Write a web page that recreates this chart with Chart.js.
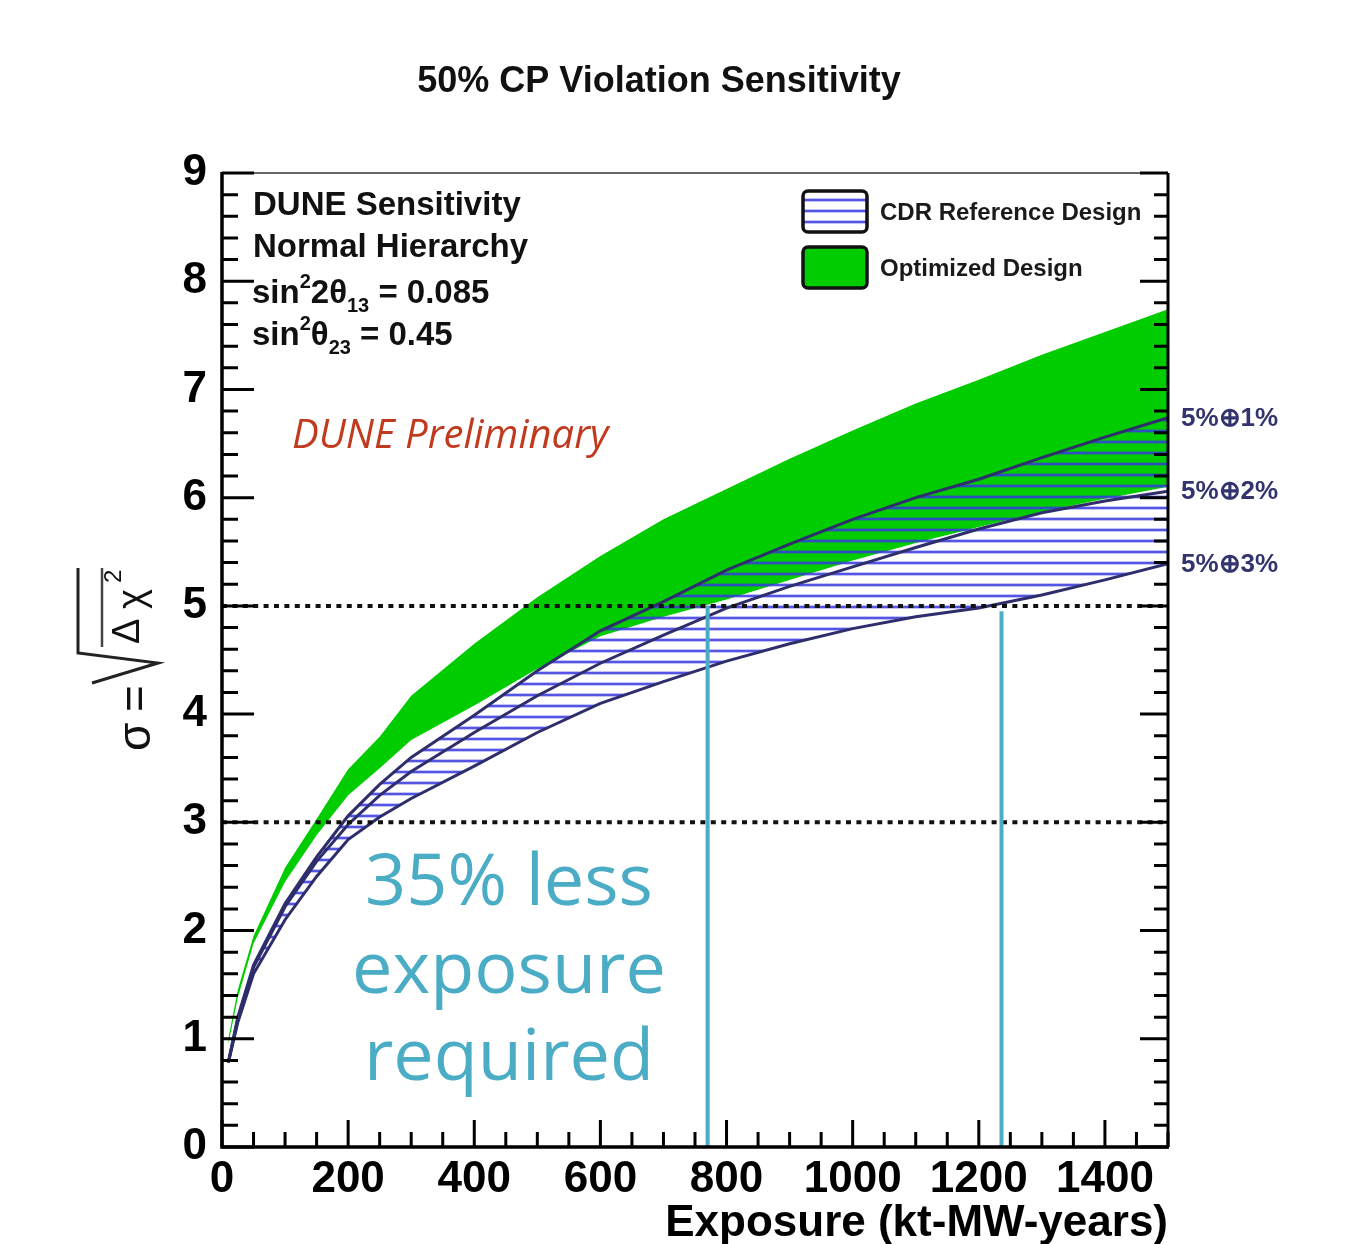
<!DOCTYPE html>
<html><head><meta charset="utf-8">
<style>html,body{margin:0;padding:0;background:#fff;}canvas{display:block;}</style>
<script src="https://cdn.jsdelivr.net/npm/chart.js@4.4.1/dist/chart.umd.min.js"></script>
</head><body>
<canvas id="c" width="1347" height="1244"></canvas>
<script>
// ---- data ----
const exposure       = [10, 25, 50, 100, 150, 200, 250, 300, 400, 500, 600, 700, 800, 900, 1000, 1100, 1200, 1300, 1400, 1500];
const optimizedUpper = [1.00, 1.45, 1.95, 2.58, 3.03, 3.49, 3.79, 4.17, 4.65, 5.08, 5.46, 5.80, 6.08, 6.36, 6.62, 6.87, 7.09, 7.32, 7.53, 7.74];
const optimizedLower = [0.95, 1.38, 1.88, 2.45, 2.88, 3.25, 3.50, 3.76, 4.08, 4.42, 4.72, 4.90, 5.06, 5.24, 5.42, 5.58, 5.73, 5.87, 5.99, 6.10];
const cdr1pct        = [0.78, 1.20, 1.68, 2.25, 2.68, 3.06, 3.35, 3.60, 3.99, 4.40, 4.77, 5.04, 5.33, 5.57, 5.80, 6.00, 6.17, 6.37, 6.56, 6.74];
const cdr2pct        = [0.78, 1.18, 1.66, 2.22, 2.64, 2.98, 3.25, 3.47, 3.83, 4.17, 4.47, 4.73, 4.98, 5.18, 5.36, 5.54, 5.71, 5.86, 5.97, 6.06];
const cdr3pct        = [0.78, 1.15, 1.60, 2.10, 2.50, 2.84, 3.05, 3.22, 3.52, 3.83, 4.10, 4.30, 4.49, 4.65, 4.79, 4.90, 4.98, 5.10, 5.24, 5.39];
const sigmaLevels    = [3, 5];
const cutExposure    = [770, 1236];
const cutSigma       = [5.0, 4.95];
const xTickValues    = [0, 200, 400, 600, 800, 1000, 1200, 1400];
const yTickValues    = [0, 1, 2, 3, 4, 5, 6, 7, 8, 9];
const systLabels     = ['5%\u22951%', '5%\u22952%', '5%\u22953%'];
const legendLabels   = ['CDR Reference Design', 'Optimized Design'];

const XMAX = 1500, YMAX = 9;
const GREEN = '#00cc00', NAVY = '#2e2e6c', CYAN = '#4bacc6';

// hatch pattern
const hc = document.createElement('canvas'); hc.width = 8; hc.height = 11;
const hx = hc.getContext('2d');
hx.fillStyle = 'rgba(55,55,225,0.30)'; hx.fillRect(0, 0, 8, 1);
hx.fillStyle = 'rgba(55,55,225,0.85)'; hx.fillRect(0, 1, 8, 2);
hx.fillStyle = 'rgba(55,55,225,0.30)'; hx.fillRect(0, 3, 8, 1);
const ctx0 = document.getElementById('c').getContext('2d');
const hatch = ctx0.createPattern(hc, 'repeat');

const pts = (xs, ys) => xs.map((v, i) => ({x: v, y: ys[i]}));
const FONT = '"Liberation Sans", Arial, Helvetica, sans-serif';

Chart.defaults.font.family = FONT;

function rich(ctx, x, y, parts) {
  let cx = x;
  for (const [t, size, dy] of parts) {
    ctx.font = `bold ${size}px ${FONT}`;
    ctx.fillText(t, cx, y + dy);
    cx += ctx.measureText(t).width;
  }
}

const decor = {
  id: 'decor',
  afterDatasetsDraw(chart) {
    const {ctx, chartArea: a, scales: {x, y}} = chart;
    ctx.save();
    // frame
    ctx.strokeStyle = '#666'; ctx.lineWidth = 2;
    ctx.beginPath(); ctx.moveTo(a.left, a.top); ctx.lineTo(a.right, a.top); ctx.stroke();
    ctx.strokeStyle = '#000'; ctx.lineWidth = 3;
    ctx.beginPath(); ctx.moveTo(a.right, a.top); ctx.lineTo(a.right, a.bottom); ctx.stroke();
    ctx.lineWidth = 3.5;
    ctx.beginPath(); ctx.moveTo(a.left, a.top - 1); ctx.lineTo(a.left, a.bottom); ctx.lineTo(a.right + 1, a.bottom); ctx.stroke();
    // ticks
    ctx.lineWidth = 3;
    ctx.beginPath();
    for (let v = 0; v <= XMAX; v += 50) {
      const px = x.getPixelForValue(v);
      const len = (v % 200 === 0) ? 27 : 15;
      ctx.moveTo(px, a.bottom); ctx.lineTo(px, a.bottom - len);
    }
    for (let i = 0; i <= YMAX * 5; i++) {
      const v = i / 5, py = y.getPixelForValue(v);
      const major = i % 5 === 0;
      ctx.moveTo(a.left, py); ctx.lineTo(a.left + (major ? 32 : 16), py);
      ctx.moveTo(a.right, py); ctx.lineTo(a.right - (major ? 28 : 14), py);
    }
    ctx.stroke();
    ctx.restore();
  },
  afterDraw(chart) {
    const {ctx, chartArea: a, scales: {x, y}} = chart;
    ctx.save();
    ctx.textBaseline = 'alphabetic';
    // title
    ctx.fillStyle = '#111'; ctx.textAlign = 'center';
    ctx.font = `bold 36px ${FONT}`;
    ctx.fillText('50% CP Violation Sensitivity', 659, 92);
    // info block
    ctx.textAlign = 'left';
    ctx.font = `bold 33px ${FONT}`;
    ctx.fillText('DUNE Sensitivity', 253, 215);
    ctx.fillText('Normal Hierarchy', 253, 257);
    rich(ctx, 252, 303, [['sin', 33, 0], ['2', 20, -15], ['2\u03b8', 33, 0], ['13', 20, 9], [' = 0.085', 33, 0]]);
    rich(ctx, 252, 345, [['sin', 33, 0], ['2', 20, -15], ['\u03b8', 33, 0], ['23', 20, 9], [' = 0.45', 33, 0]]);
    // preliminary
    ctx.fillStyle = '#c23a1e';
    ctx.font = `italic 40px "Open Sans", ${FONT}`;
    ctx.fillText('DUNE Preliminary', 292, 448);
    // legend
    const boxes = [[803, 191, hatch], [803, 247, GREEN]];
    boxes.forEach(([bx, by, fillS], i) => {
      ctx.fillStyle = fillS;
      ctx.beginPath(); ctx.roundRect(bx, by, 64, 41, 5); ctx.fill();
      ctx.strokeStyle = '#111'; ctx.lineWidth = 3.5; ctx.stroke();
      ctx.fillStyle = '#1a1a1a';
      ctx.font = `bold 24px ${FONT}`;
      ctx.fillText(legendLabels[i], 880, by + 29);
    });
    // systematic labels
    ctx.fillStyle = '#33336e';
    ctx.font = `bold 26px ${FONT}`;
    ctx.textBaseline = 'middle';
    const ends = [cdr1pct, cdr2pct, cdr3pct].map(s => s[s.length - 1]);
    ends.forEach((v, i) => ctx.fillText(systLabels[i], 1181, y.getPixelForValue(v) + 1));
    // annotation
    ctx.textBaseline = 'alphabetic';
    ctx.textAlign = 'center';
    ctx.fillStyle = CYAN;
    ctx.font = `72px "Open Sans", ${FONT}`;
    ctx.fillText('35% less', 509, 905);
    ctx.fillText('exposure', 509, 993);
    ctx.fillText('required', 509, 1080);
    // y-axis title (rotated)
    ctx.translate(150, 750);
    ctx.rotate(-Math.PI / 2);
    ctx.textAlign = 'left';
    ctx.fillStyle = '#111';
    ctx.font = `46px ${FONT}`;
    ctx.fillText('\u03c3', -1, 0);
    ctx.fillText('=', 38, 0);
    ctx.strokeStyle = '#222'; ctx.lineWidth = 3;
    ctx.beginPath(); ctx.moveTo(67, -58); ctx.lineTo(87, 8); ctx.lineTo(97, -72); ctx.lineTo(182, -72); ctx.stroke();
    ctx.strokeStyle = '#444'; ctx.lineWidth = 2.5;
    ctx.beginPath(); ctx.moveTo(103, -48); ctx.lineTo(182, -48); ctx.stroke();
    ctx.fillStyle = '#111';
    ctx.font = `38px ${FONT}`;
    ctx.fillText('\u0394', 106, -11);
    ctx.fillText('\u03c7', 141, -6);
    ctx.font = `24px ${FONT}`;
    ctx.fillText('2', 167, -29);
    ctx.restore();
  }
};

const lineDs = (label, data, extra) => Object.assign({
  label, data, pointRadius: 0, borderWidth: 3, borderColor: NAVY, fill: false, tension: 0
}, extra);

new Chart(ctx0, {
  type: 'line',
  data: {
    datasets: [
      lineDs('cut optimized', [{x: cutExposure[0], y: 0}, {x: cutExposure[0], y: cutSigma[0]}], {borderColor: CYAN, borderWidth: 4}),
      lineDs('cut CDR', [{x: cutExposure[1], y: 0}, {x: cutExposure[1], y: cutSigma[1]}], {borderColor: CYAN, borderWidth: 4}),
      lineDs('5 sigma', [{x: 0, y: sigmaLevels[1]}, {x: XMAX, y: sigmaLevels[1]}], {borderColor: '#111', borderWidth: 4, borderDash: [5, 5.4]}),
      lineDs('3 sigma', [{x: 0, y: sigmaLevels[0]}, {x: XMAX, y: sigmaLevels[0]}], {borderColor: '#111', borderWidth: 4, borderDash: [5, 5.4]}),
      lineDs(systLabels[0], pts(exposure, cdr1pct), {fill: '+2', backgroundColor: hatch}),
      lineDs(systLabels[1], pts(exposure, cdr2pct)),
      lineDs(systLabels[2], pts(exposure, cdr3pct)),
      lineDs('Optimized upper', pts(exposure, optimizedUpper), {borderColor: 'rgba(0,0,0,0)', borderWidth: 1, fill: '+1', backgroundColor: GREEN}),
      lineDs('Optimized lower', pts(exposure, optimizedLower), {borderColor: 'rgba(0,0,0,0)', borderWidth: 1})
    ]
  },
  options: {
    responsive: false,
    animation: false,
    devicePixelRatio: 1,
    layout: {padding: {top: 173, right: 179, left: 0, bottom: 0}},
    plugins: {
      legend: {display: false},
      tooltip: {enabled: false},
      filler: {drawTime: 'beforeDatasetsDraw'}
    },
    scales: {
      x: {
        type: 'linear', min: 0, max: XMAX,
        afterBuildTicks: s => { s.ticks = xTickValues.map(v => ({value: v})); },
        afterFit: s => { s.height = 97; },
        grid: {display: false}, border: {display: false},
        ticks: {font: {size: 44, weight: 'bold'}, color: '#000', padding: -2, autoSkip: false, maxRotation: 0,
                callback: v => String(v)},
        title: {display: true, text: 'Exposure (kt-MW-years)', align: 'end', color: '#000',
                font: {size: 44, weight: 'bold', lineHeight: 1}, padding: {top: 0, bottom: -2}}
      },
      y: {
        type: 'linear', min: 0, max: YMAX,
        afterBuildTicks: s => { s.ticks = yTickValues.map(v => ({value: v})); },
        afterFit: s => { s.width = 222; },
        grid: {display: false}, border: {display: false},
        ticks: {font: {size: 44, weight: 'bold'}, color: '#000', padding: 7, autoSkip: false,
                callback: v => String(v)}
      }
    }
  },
  plugins: [decor]
});
</script>
</body></html>
